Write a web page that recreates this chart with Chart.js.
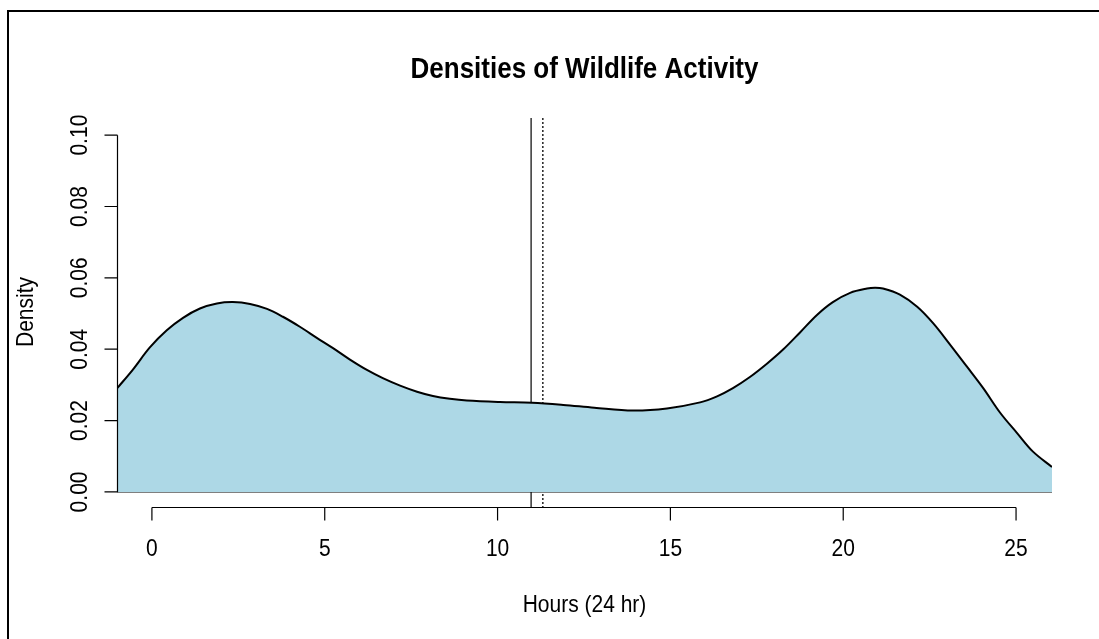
<!DOCTYPE html>
<html>
<head>
<meta charset="utf-8">
<title>Densities of Wildlife Activity</title>
<script src="https://cdn.jsdelivr.net/npm/chart.js@4.4.1/dist/chart.umd.min.js"></script>
<style>
  html, body { margin: 0; padding: 0; background: #fff; }
  #density-chart { display: block; }
</style>
</head>
<body>
<canvas id="density-chart" width="1099" height="639"></canvas>
<script>
// kernel density of activity times (hours)
const hours = [-1.01, -0.55, -0.06, 0.43, 0.90, 1.39, 1.88, 2.34, 2.84, 3.33,
  3.79, 4.28, 4.77, 5.24, 5.73, 6.22, 6.68, 7.18, 7.67, 8.13,
  8.62, 9.11, 10.07, 11.0, 11.9, 12.8, 13.92, 14.90, 15.86, 16.35,
  16.81, 17.30, 17.80, 18.26, 18.75, 19.24, 19.70, 20.20, 20.69, 20.92,
  21.15, 21.64, 22.14, 22.60, 23.09, 23.58, 24.05, 24.54, 25.03, 25.49, 26.04];
const density = [0.0290, 0.0343, 0.0405, 0.0453, 0.0488, 0.0514, 0.0528, 0.0532, 0.0527, 0.0513,
  0.0491, 0.0463, 0.0432, 0.0403, 0.0371, 0.0342, 0.0319, 0.0298, 0.0281, 0.0269,
  0.0261, 0.0256, 0.0252, 0.0250, 0.0244, 0.0236, 0.0228, 0.0234, 0.0251, 0.0268,
  0.0291, 0.0322, 0.0360, 0.0399, 0.0447, 0.0496, 0.0532, 0.0558, 0.0570, 0.0572,
  0.0570, 0.0553, 0.0519, 0.0473, 0.0413, 0.0351, 0.0291, 0.0222, 0.0165, 0.0113, 0.0070];

const xTicks = [0, 5, 10, 15, 20, 25];
const xTickLabels = ["0", "5", "10", "15", "20", "25"];
const yTicks = [0, 0.02, 0.04, 0.06, 0.08, 0.10];
const yTickLabels = ["0.00", "0.02", "0.04", "0.06", "0.08", "0.10"];

// reference lines (solid / dotted)
const solidHour = 10.97;
const dottedHour = 11.31;

const xRange = [-1.01, 26.04];
const yRange = [-0.0045, 0.1048];

const FONT = '"Liberation Sans", Arial, sans-serif';
const STRETCH = 1.12;

function drawText(ctx, str, x, y, font, rotate) {
  ctx.save();
  ctx.translate(x, y);
  if (rotate) ctx.rotate(rotate);
  ctx.scale(1, STRETCH);
  ctx.font = font;
  ctx.fillStyle = "#000";
  ctx.textAlign = "center";
  ctx.textBaseline = "alphabetic";
  ctx.fillText(str, 0, 0);
  ctx.restore();
}

// base-graphics style axes, labels and outer frame
const rAxes = {
  id: "rAxes",
  afterDraw(chart) {
    const ctx = chart.ctx;
    const xs = chart.scales.x, ys = chart.scales.y;
    const area = chart.chartArea;
    const tick = 13;

    ctx.save();
    ctx.strokeStyle = "#000";
    ctx.lineWidth = 1.2;

    // x axis
    const ax = Math.round(area.bottom) - 0.5;
    const x0 = xs.getPixelForValue(xTicks[0]);
    const x1 = xs.getPixelForValue(xTicks[xTicks.length - 1]);
    ctx.beginPath();
    ctx.moveTo(x0, ax);
    ctx.lineTo(x1, ax);
    xTicks.forEach(v => {
      const px = xs.getPixelForValue(v);
      ctx.moveTo(px, ax);
      ctx.lineTo(px, ax + tick);
    });
    ctx.stroke();

    // y axis
    const ay = Math.round(area.left) + 0.5;
    ctx.beginPath();
    ctx.moveTo(ay, ys.getPixelForValue(yTicks[0]));
    ctx.lineTo(ay, ys.getPixelForValue(yTicks[yTicks.length - 1]));
    yTicks.forEach(v => {
      const py = ys.getPixelForValue(v);
      ctx.moveTo(ay, py);
      ctx.lineTo(ay - tick, py);
    });
    ctx.stroke();

    // frame
    ctx.lineWidth = 2;
    ctx.strokeRect(8, 11, 1200, 800);
    ctx.restore();

    const tickFont = "21px " + FONT;
    xTicks.forEach((v, i) => drawText(ctx, xTickLabels[i], xs.getPixelForValue(v), 556, tickFont));
    yTicks.forEach((v, i) => drawText(ctx, yTickLabels[i], 87, ys.getPixelForValue(v), tickFont, -Math.PI / 2));

    const midX = (area.left + area.right) / 2;
    drawText(ctx, "Densities of Wildlife Activity", midX, 78, "bold 26px " + FONT);
    drawText(ctx, "Hours (24 hr)", midX, 612, "21px " + FONT);
    drawText(ctx, "Density", 33, (area.top + area.bottom) / 2 - 1, "21px " + FONT, -Math.PI / 2);
  }
};

const curve = hours.map((h, i) => ({ x: h, y: density[i] }));

new Chart(document.getElementById("density-chart"), {
  type: "line",
  data: {
    datasets: [
      {
        data: curve,
        fill: "origin",
        backgroundColor: "#ADD8E6",
        borderColor: "#000",
        borderWidth: 2,
        pointRadius: 0,
        tension: 0.35,
      },
      {
        data: [{ x: xRange[0], y: 0 }, { x: xRange[1], y: 0 }],
        borderColor: "#000",
        borderWidth: 1.2,
        pointRadius: 0,
      },
      {
        data: [{ x: solidHour, y: yRange[0] }, { x: solidHour, y: yRange[1] }],
        borderColor: "#000",
        borderWidth: 1.2,
        pointRadius: 0,
      },
      {
        data: [{ x: dottedHour, y: yRange[0] }, { x: dottedHour, y: yRange[1] }],
        borderColor: "#000",
        borderWidth: 1.3,
        borderDash: [2, 2],
        pointRadius: 0,
      },
    ],
  },
  options: {
    responsive: false,
    devicePixelRatio: 1,
    animation: false,
    events: [],
    layout: { padding: { left: 117, top: 118, right: 47, bottom: 131 } },
    scales: {
      x: { type: "linear", min: xRange[0], max: xRange[1], display: false },
      y: { type: "linear", min: yRange[0], max: yRange[1], display: false },
    },
    plugins: { legend: { display: false }, tooltip: { enabled: false } },
  },
  plugins: [rAxes],
});
</script>
</body>
</html>
